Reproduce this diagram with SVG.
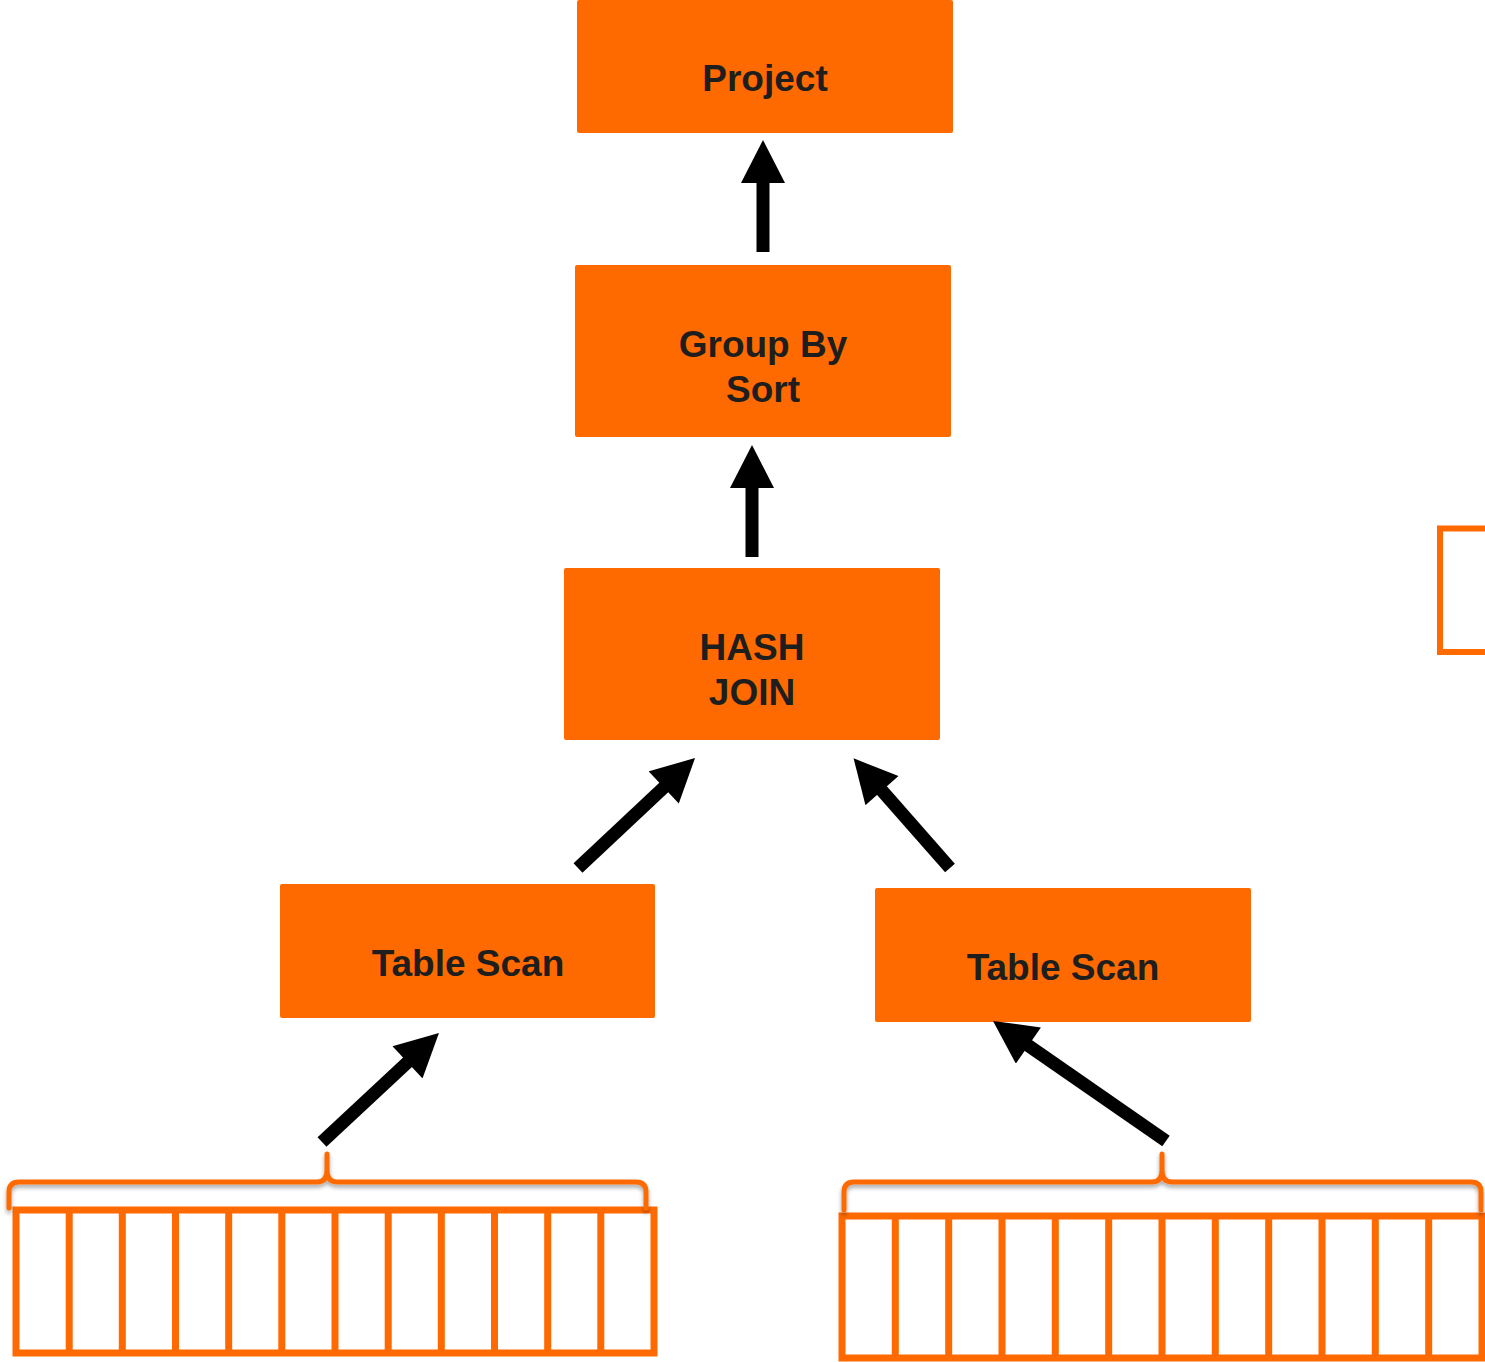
<svg xmlns="http://www.w3.org/2000/svg" width="1485" height="1362" viewBox="0 0 1485 1362">
  <style>
    .node rect { fill: #FF6A00; }
    .label { font-family: "Liberation Sans", Arial, sans-serif; font-weight: bold; font-size: 37px; fill: #1E1E1E; text-anchor: middle; }
    .conn { stroke: #000; stroke-width: 13; stroke-linecap: butt; fill: none; marker-end: url(#head); }
    .table { fill: none; stroke: #FF6A00; stroke-width: 7; }
    .brace { fill: none; stroke: #FF6A00; stroke-width: 5; stroke-linecap: round; stroke-linejoin: round; filter: url(#shade); }
    .frame { fill: none; stroke: #FF6A00; stroke-width: 6; }
  </style>
  <defs>
    <marker id="head" markerUnits="userSpaceOnUse" markerWidth="44" markerHeight="44" viewBox="0 0 43 44" refX="3" refY="22" orient="auto">
      <path d="M0,0 L43,22 L0,44 Z" fill="#000"/>
    </marker>
    <filter id="shade" x="-5%" y="-50%" width="110%" height="200%">
      <feDropShadow dx="0" dy="3" stdDeviation="2" flood-color="#000" flood-opacity="0.35"/>
    </filter>
  </defs>

  <rect width="1485" height="1362" fill="#fff"/>

  <!-- operator nodes -->
  <g id="project" class="node">
    <rect x="577" y="0" width="376" height="133" rx="2"/>
    <text class="label" x="765" y="91">Project</text>
  </g>
  <g id="group-by-sort" class="node">
    <rect x="575" y="265" width="376" height="172" rx="2"/>
    <text class="label" x="763" y="357">Group By</text>
    <text class="label" x="763" y="402">Sort</text>
  </g>
  <g id="hash-join" class="node">
    <rect x="564" y="568" width="376" height="172" rx="2"/>
    <text class="label" x="752" y="660">HASH</text>
    <text class="label" x="752" y="705">JOIN</text>
  </g>
  <g id="scan-left" class="node">
    <rect x="280" y="884" width="375" height="134" rx="2"/>
    <text class="label" x="468" y="976">Table Scan</text>
  </g>
  <g id="scan-right" class="node">
    <rect x="875" y="888" width="376" height="134" rx="2"/>
    <text class="label" x="1063" y="980">Table Scan</text>
  </g>

  <!-- data tables -->
  <g id="table-left">
    <rect class="table" x="16" y="1210" width="638" height="143"/>
    <path class="table" d="M69.2,1210V1353 M122.3,1210V1353 M175.5,1210V1353 M228.7,1210V1353 M281.8,1210V1353 M335,1210V1353 M388.2,1210V1353 M441.3,1210V1353 M494.5,1210V1353 M547.7,1210V1353 M600.8,1210V1353"/>
    <path class="brace" d="M9,1208 V1192 Q9,1182 19,1182 H317 Q327,1182 327,1170 V1154 V1170 Q327,1182 337,1182 H636 Q646,1182 646,1192 V1208"/>
  </g>
  <g id="table-right">
    <rect class="table" x="842" y="1216" width="640" height="142"/>
    <path class="table" d="M895.3,1216V1358 M948.7,1216V1358 M1002,1216V1358 M1055.3,1216V1358 M1108.7,1216V1358 M1162,1216V1358 M1215.3,1216V1358 M1268.7,1216V1358 M1322,1216V1358 M1375.3,1216V1358 M1428.7,1216V1358"/>
    <path class="brace" d="M844,1210 V1192 Q844,1182 854,1182 H1152 Q1162,1182 1162,1170 V1154 V1170 Q1162,1182 1172,1182 H1471 Q1481,1182 1481,1192 V1210"/>
  </g>

  <!-- partial frame at the right edge -->
  <g id="edge-frame">
    <rect class="frame" x="1440" y="528.5" width="100" height="123.5"/>
  </g>

  <!-- connectors -->
  <g id="connectors">
    <line class="conn" x1="763" y1="252" x2="763" y2="180"/>
    <line class="conn" x1="752" y1="557" x2="752" y2="485"/>
    <line class="conn" x1="578" y1="868" x2="665.9" y2="785.4"/>
    <line class="conn" x1="950" y1="868" x2="880" y2="788.4"/>
    <line class="conn" x1="322" y1="1142" x2="409.7" y2="1060.3"/>
    <line class="conn" x1="1166" y1="1141" x2="1025.9" y2="1043.8"/>
  </g>
</svg>
